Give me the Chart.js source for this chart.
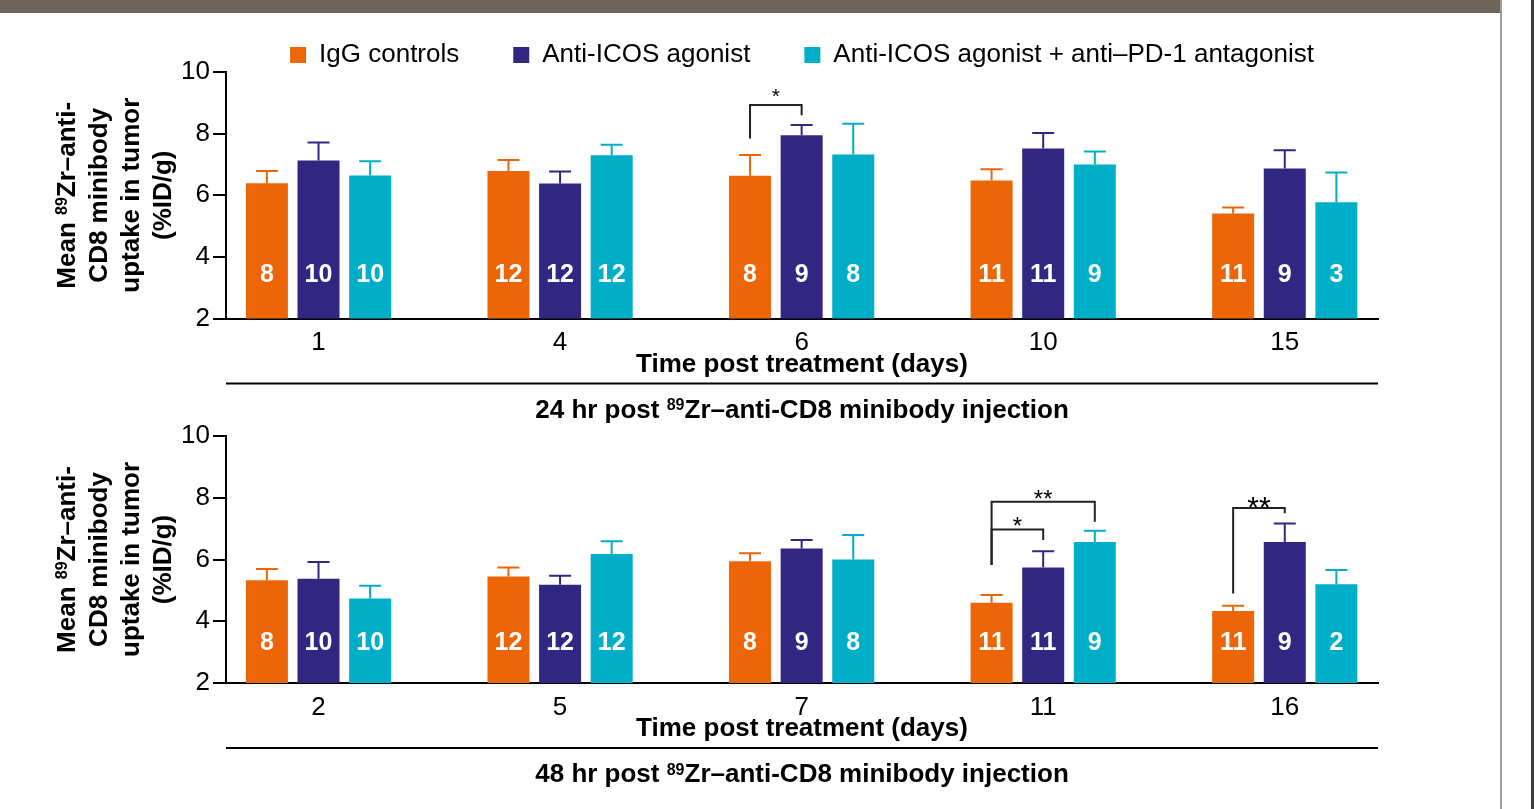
<!DOCTYPE html>
<html>
<head>
<meta charset="utf-8">
<script src="https://cdn.jsdelivr.net/npm/chart.js"></script>
<style>
  body { margin: 0; background: #fff; overflow: hidden; width: 1535px; height: 809px; }
  canvas { position: absolute; left: 0; }
  #chart24 { top: -12px; }
  #chart48 { top: 400px; }
  #band { position: absolute; left: 0; top: 0; width: 1500px; height: 13px; background: #6f635a; }
  #edge1 { position: absolute; left: 1500px; top: 0; width: 2px; height: 809px; background: #a59c95; }
  #edge2 { position: absolute; left: 1531px; top: 0; width: 3px; height: 809px; background: #3c3c3c; }
</style>
</head>
<body>
<canvas id="chart24" width="1502" height="444"></canvas>
<canvas id="chart48" width="1502" height="400"></canvas>
<div id="band"></div>
<div id="edge1"></div>
<div id="edge2"></div>
<script>
const seriesNames = ['IgG controls', 'Anti-ICOS agonist', 'Anti-ICOS agonist + anti\u2013PD-1 antagonist'];
const seriesColors = ['#ec6608', '#312783', '#00aec7'];

// 24 hr post injection
const days24 = ['1', '4', '6', '10', '15'];
const igg24 = [6.39, 6.79, 6.63, 6.48, 5.41];
const icos24 = [7.13, 6.38, 7.95, 7.52, 6.87];
const combo24 = [6.64, 7.30, 7.32, 7.00, 5.77];
const iggErr24 = [0.40, 0.35, 0.68, 0.36, 0.19];
const icosErr24 = [0.58, 0.39, 0.33, 0.50, 0.59];
const comboErr24 = [0.46, 0.34, 1.00, 0.42, 0.97];
const iggN24 = [8, 12, 8, 11, 11];
const icosN24 = [10, 12, 9, 11, 9];
const comboN24 = [10, 12, 8, 9, 3];
// group, bar a, bar b, bracket level, left arm end, right arm end, label
const sig24 = [[2, 0, 1, 8.93, 7.84, 8.60, '*']];

// 48 hr post injection
const days48 = ['2', '5', '7', '11', '16'];
const igg48 = [5.33, 5.45, 5.94, 4.60, 4.33];
const icos48 = [5.38, 5.18, 6.36, 5.74, 6.57];
const combo48 = [4.74, 6.18, 6.00, 6.57, 5.20];
const iggErr48 = [0.36, 0.29, 0.26, 0.25, 0.17];
const icosErr48 = [0.54, 0.29, 0.27, 0.53, 0.60];
const comboErr48 = [0.41, 0.41, 0.79, 0.36, 0.46];
const iggN48 = [8, 12, 8, 11, 11];
const icosN48 = [10, 12, 9, 11, 9];
const comboN48 = [10, 12, 8, 9, 2];
const sig48 = [[3, 0, 2, 7.87, 5.82, 7.22, '**'], [3, 0, 1, 6.97, 5.82, 6.63, '*'], [4, 0, 1, 7.67, 4.90, 7.50, '**']];

const yTicks = [2, 4, 6, 8, 10];
// rich text: [text, superscript?]
const yTitle = [[['Mean ', 0], ['89', 1], ['Zr\u2013anti-', 0]], [['CD8 minibody', 0]], [['uptake in tumor', 0]], [['(%ID/g)', 0]]];
const xTitle = 'Time post treatment (days)';
const sub24 = [['24 hr post ', 0], ['89', 1], ['Zr\u2013anti-CD8 minibody injection', 0]];
const sub48 = [['48 hr post ', 0], ['89', 1], ['Zr\u2013anti-CD8 minibody injection', 0]];

const FONT = "'Liberation Sans', Arial, sans-serif";
Chart.defaults.font.family = FONT;
Chart.defaults.color = '#000';

// draw a line of bold text with superscript parts, centred on x, baseline y
function richText(ctx, parts, x, y) {
  const fonts = parts.map(p => p[1] ? 'bold 16px ' + FONT : 'bold 26px ' + FONT);
  let w = 0;
  parts.forEach((p, i) => { ctx.font = fonts[i]; w += ctx.measureText(p[0]).width; });
  let cx = x - w / 2;
  ctx.textAlign = 'left';
  ctx.textBaseline = 'alphabetic';
  parts.forEach((p, i) => {
    ctx.font = fonts[i];
    ctx.fillText(p[0], cx, p[1] ? y - 7.5 : y);
    cx += ctx.measureText(p[0]).width;
  });
}

// error bars, n counts inside bars, significance brackets, titles, separator line
const barExtras = {
  id: 'barExtras',
  afterDatasetsDraw(chart, args, opts) {
    const ctx = chart.ctx, y = chart.scales.y;
    ctx.save();
    chart.data.datasets.forEach((ds, i) => {
      const meta = chart.getDatasetMeta(i);
      meta.data.forEach((bar, j) => {
        const top = y.getPixelForValue(ds.data[j].y + ds.errors[j]);
        ctx.strokeStyle = ds.backgroundColor;
        ctx.lineWidth = 2;
        ctx.beginPath();
        ctx.moveTo(bar.x, bar.y);
        ctx.lineTo(bar.x, top);
        ctx.moveTo(bar.x - 11, top);
        ctx.lineTo(bar.x + 11, top);
        ctx.stroke();
        ctx.fillStyle = '#fff';
        ctx.font = 'bold 25px ' + FONT;
        ctx.textAlign = 'center';
        ctx.textBaseline = 'middle';
        ctx.fillText(String(ds.counts[j]), bar.x, y.getPixelForValue(opts.countLevel));
      });
    });
    opts.brackets.forEach((b, k) => {
      const [g, a, c, level, endA, endC, label] = b;
      const xa = chart.getDatasetMeta(a).data[g].x;
      const xc = chart.getDatasetMeta(c).data[g].x;
      const yl = y.getPixelForValue(level);
      ctx.strokeStyle = '#222';
      ctx.lineWidth = 2;
      ctx.beginPath();
      ctx.moveTo(xa, y.getPixelForValue(endA));
      ctx.lineTo(xa, yl);
      ctx.lineTo(xc, yl);
      ctx.lineTo(xc, y.getPixelForValue(endC));
      ctx.stroke();
      ctx.fillStyle = '#000';
      ctx.font = opts.starSize[k] + 'px ' + FONT;
      ctx.textAlign = 'center';
      ctx.textBaseline = 'alphabetic';
      const m = ctx.measureText(label);
      const mid = (m.actualBoundingBoxAscent - m.actualBoundingBoxDescent) / 2;
      ctx.fillText(label, (xa + xc) / 2, yl - opts.starGap[k] + mid);
    });
    ctx.restore();
  },
  afterDraw(chart, args, opts) {
    const ctx = chart.ctx, x = chart.scales.x, y = chart.scales.y, area = chart.chartArea;
    ctx.save();
    ctx.strokeStyle = '#000';
    ctx.lineWidth = 2;
    ctx.beginPath();
    ctx.moveTo(area.left, x.bottom - 1);
    ctx.lineTo(area.right, x.bottom - 1);
    ctx.stroke();
    ctx.fillStyle = '#000';
    richText(ctx, opts.subtitle, (area.left + area.right) / 2, x.bottom + 33);
    // y axis title, rotated
    ctx.translate(0, (y.top + y.bottom) / 2);
    ctx.rotate(-Math.PI / 2);
    yTitle.forEach((line, i) => richText(ctx, line, 0, 65 + i * 32 + 9.5));
    ctx.restore();
  }
};

function makeChart(id, days, means, errs, counts, sig, subtitle, cfg) {
  const idx = days.map((d, i) => i);
  return new Chart(document.getElementById(id), {
    type: 'bar',
    data: {
      datasets: means.map((m, s) => ({
        label: seriesNames[s],
        data: m.map((v, i) => ({ x: idx[i], y: v })),
        errors: errs[s],
        counts: counts[s],
        backgroundColor: seriesColors[s],
        borderWidth: 0,
        categoryPercentage: 0.641,
        barPercentage: 0.814
      }))
    },
    options: {
      responsive: false,
      animation: false,
      events: [],
      layout: { padding: { top: cfg.padTop, right: 124, bottom: cfg.padBottom, left: 0 } },
      scales: {
        x: {
          type: 'linear',
          offset: false,
          bounds: 'data',
          min: -0.383,
          max: 4.386,
          afterBuildTicks: s => { s.ticks = idx.map(v => ({ value: v })); },
          afterFit: s => { s.height = 66; },
          ticks: { callback: v => days[v], font: { size: 26, lineHeight: 1 }, padding: 11.5, maxRotation: 0, autoSkip: false },
          grid: { display: false, drawTicks: false, offset: false },
          border: { display: true, color: '#000', width: 2 },
          title: { display: true, text: xTitle, font: { size: 26, weight: 'bold', lineHeight: 1 }, padding: { top: 0, bottom: 7 } }
        },
        y: {
          min: 2,
          max: 10,
          afterBuildTicks: s => { s.ticks = yTicks.map(v => ({ value: v })); },
          afterFit: s => { s.width = 226; },
          ticks: { font: { size: 26 }, padding: 3 },
          grid: { drawOnChartArea: false, drawTicks: true, tickLength: 13, color: '#000', lineWidth: 2 },
          border: { display: true, color: '#000', width: 2 }
        }
      },
      plugins: {
        legend: {
          display: cfg.legend,
          position: 'top',
          fullSize: false,
          maxHeight: 84,
          labels: { boxWidth: 16, boxHeight: 16, padding: 54, font: { size: 26 }, color: '#000' }
        },
        title: { display: false },
        tooltip: { enabled: false },
        barExtras: { countLevel: cfg.countLevel, brackets: sig, starSize: cfg.starSize, starGap: cfg.starGap, subtitle: subtitle }
      }
    },
    plugins: [barExtras]
  });
}

makeChart('chart24', days24,
  [igg24, icos24, combo24], [iggErr24, icosErr24, comboErr24], [iggN24, icosN24, comboN24],
  sig24, sub24,
  { legend: true, padTop: 0, padBottom: 47.5, countLevel: 3.41, starSize: [21], starGap: [12] });

makeChart('chart48', days48,
  [igg48, icos48, combo48], [iggErr48, icosErr48, comboErr48], [iggN48, icosN48, comboN48],
  sig48, sub48,
  { legend: false, padTop: 36, padBottom: 51, countLevel: 3.3, starSize: [24, 24, 30], starGap: [7, 8, 5] });
</script>
</body>
</html>
